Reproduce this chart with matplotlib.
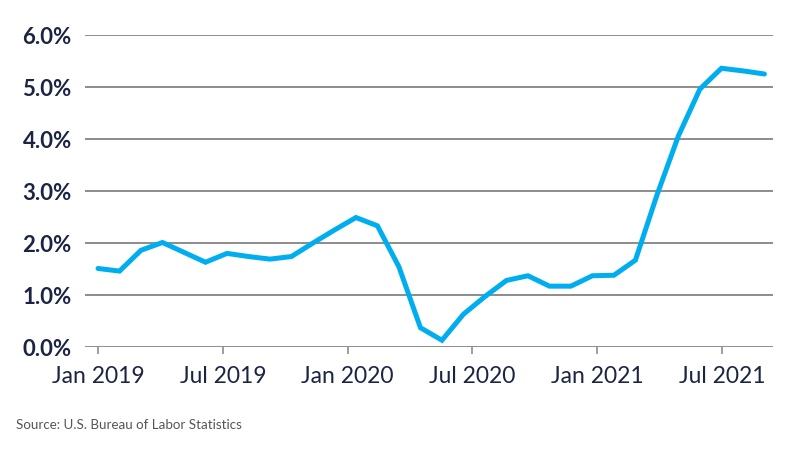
import matplotlib
matplotlib.use("Agg")
import matplotlib.pyplot as plt

# Data: CPI 12-month change, Jan 2019 - Aug 2021 (monthly)
months = ["Jan 2019", "Feb 2019", "Mar 2019", "Apr 2019", "May 2019", "Jun 2019",
          "Jul 2019", "Aug 2019", "Sep 2019", "Oct 2019", "Nov 2019", "Dec 2019",
          "Jan 2020", "Feb 2020", "Mar 2020", "Apr 2020", "May 2020", "Jun 2020",
          "Jul 2020", "Aug 2020", "Sep 2020", "Oct 2020", "Nov 2020", "Dec 2020",
          "Jan 2021", "Feb 2021", "Mar 2021", "Apr 2021", "May 2021", "Jun 2021",
          "Jul 2021", "Aug 2021"]
values = [1.51, 1.46, 1.86, 2.01, 1.82, 1.63, 1.80, 1.74, 1.69, 1.74, 2.00, 2.25,
          2.49, 2.33, 1.54, 0.37, 0.13, 0.63, 0.97, 1.28, 1.37, 1.17, 1.17, 1.37,
          1.38, 1.67, 2.92, 4.06, 4.96, 5.36, 5.31, 5.25]
tick_labels = ["Jan 2019", "Jul 2019", "Jan 2020", "Jul 2020", "Jan 2021", "Jul 2021"]
y_ticks = [0, 1, 2, 3, 4, 5, 6]
source = "Source: U.S. Bureau of Labor Statistics"

W, H = 791, 450
fig = plt.figure(figsize=(W / 100, H / 100), dpi=100)
ax = fig.add_axes([85 / W, (H - 347) / H, 688 / W, 312 / H])

navy = "#1b2543"
grid_c = "#8c8c8c"
blue = "#00aeef"

x = list(range(len(values)))
ax.plot(x, values, color=blue, lw=3.6, solid_joinstyle="miter", solid_capstyle="round",
        zorder=3, clip_on=False)

ax.set_xlim(-0.605, 31.4)
ax.set_ylim(0, 6)

for s in ax.spines.values():
    s.set_visible(False)

ax.set_yticks(y_ticks)
ax.set_yticklabels([f"{v:.1f}%" for v in y_ticks], fontfamily="Lato",
                   fontweight="bold", fontsize=16, color=navy)
ax.tick_params(axis="y", length=0, pad=9.5)
ax.yaxis.grid(True, color=grid_c, lw=1.4)
ax.set_axisbelow(True)

tick_step = 5.805
ax.set_xticks([i * tick_step for i in range(len(tick_labels))])
ax.set_xticklabels(tick_labels, fontfamily="Lato", fontsize=16.5, color=navy)
ax.tick_params(axis="x", length=5, width=1.2, color=grid_c, pad=8.5)

fig.text(16 / W, 1 - 425 / H, source, fontfamily="Lato", fontsize=9.6, color="#555555",
         va="center", ha="left")

fig.savefig("out.png", dpi=100)
